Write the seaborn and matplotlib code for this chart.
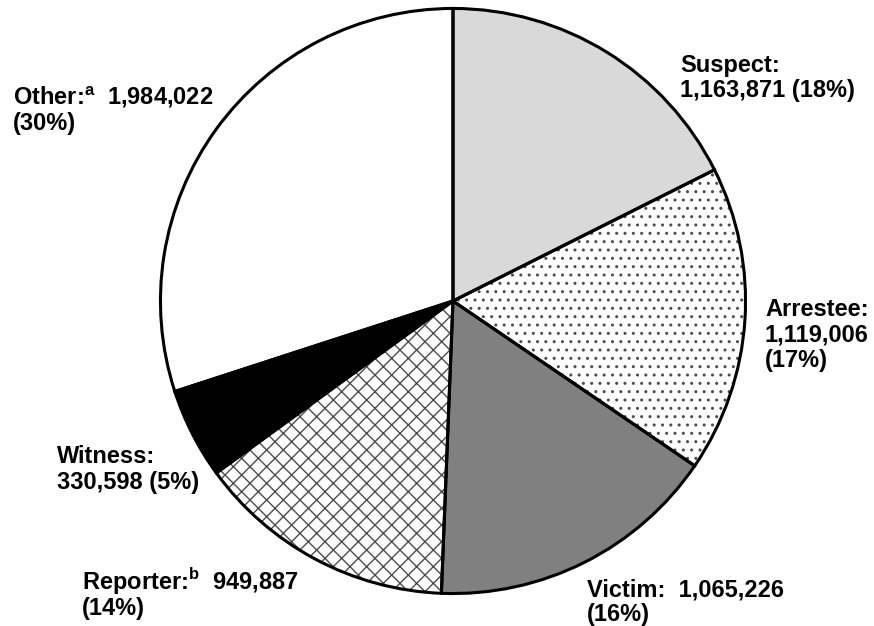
import matplotlib
matplotlib.use('Agg')
import matplotlib.pyplot as plt
import seaborn as sns

sns.set_theme(style="white")
plt.rcParams['font.family'] = ['Liberation Sans', 'DejaVu Sans']
plt.rcParams['mathtext.fontset'] = 'custom'
plt.rcParams['mathtext.rm'] = 'Liberation Sans:bold'
plt.rcParams['mathtext.bf'] = 'Liberation Sans:bold'

# data, clockwise from 12 o'clock
roles = ['Suspect', 'Arrestee', 'Victim', 'Reporter', 'Witness', 'Other']
notes = ['', '', '', 'b', '', 'a']
counts = [1163871, 1119006, 1065226, 949887, 330598, 1984022]
pcts = [18, 17, 16, 14, 5, 30]
face = ['#d9d9d9', 'white', '#808080', 'white', 'black', 'white']
hatches = [None, '..', None, 'xx', None, None]

fig = plt.figure(figsize=(8.74, 6.26), dpi=100)
W, H = 874, 626
cx, cy, r = 453, 301, 294
ax = fig.add_axes([(cx - r) / W, (H - cy - r) / H, 2 * r / W, 2 * r / H])

# fills + hatches (hatch takes the edge colour, so outline separately)
wedges, _ = ax.pie(counts, startangle=90, counterclock=False, colors=face,
                   wedgeprops=dict(edgecolor='0.3', linewidth=0))
for w, h in zip(wedges, hatches):
    if h:
        w.set_hatch(h)
# outlines
ax.pie(counts, startangle=90, counterclock=False,
       wedgeprops=dict(facecolor='none', edgecolor='black', linewidth=2.2))
ax.set_xlim(-1.005, 1.005)
ax.set_ylim(-1.005, 1.005)
ax.set_aspect('auto')
ax.axis('off')


def head(i):
    s = roles[i] + ':'
    if notes[i]:
        s += r'$^{\mathbf{' + notes[i] + '}}$'
    return s


num = [f"{c:,}" for c in counts]
pc = [f"({p}%)" for p in pcts]

# label lines: (left x, first baseline y, lines)
labels = [
    (680, 72, [head(0), f"{num[0]} {pc[0]}"]),
    (765, 316, [head(1), num[1], pc[1]]),
    (587, 596, [f"{head(2)}  {num[2]}", pc[2]]),
    (82, 590, [f"{head(3)}  {num[3]}", pc[3]]),
    (57, 463, [head(4), f"{num[4]} {pc[4]}"]),
    (13, 104, [f"{head(5)}  {num[5]}", pc[5]]),
]
step = 25.5
for x, y, lines in labels:
    for k, s in enumerate(lines):
        fig.text(x / W, 1 - (y + k * step) / H, s, ha='left', va='baseline',
                 fontsize=17, fontweight='bold', color='black')

fig.savefig('out.png', dpi=100)
